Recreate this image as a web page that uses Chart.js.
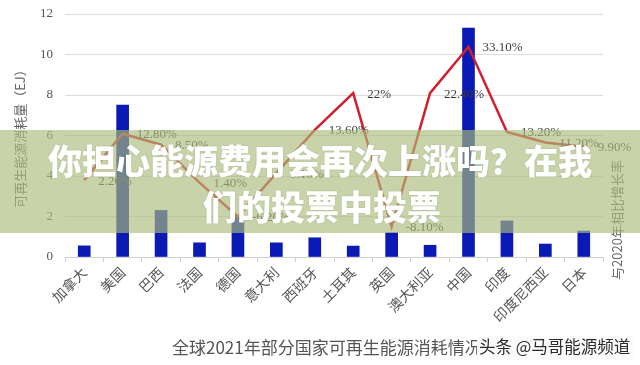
<!DOCTYPE html>
<html>
<head>
<meta charset="utf-8">
<script src="https://cdn.jsdelivr.net/npm/chart.js@4.4.1/dist/chart.umd.min.js"></script>
<style>
  html, body { margin: 0; padding: 0; background: #ffffff; }
  #wrap { width: 640px; height: 365px; position: relative; }
</style>
</head>
<body>
<div id="wrap"><canvas id="renewChart"></canvas></div>
<script>
// categories and values
const countries = ['加拿大', '美国', '巴西', '法国', '德国', '意大利', '西班牙', '土耳其', '英国', '澳大利亚', '中国', '印度', '印度尼西亚', '日本'];
const consumptionEJ = [0.55, 7.5, 2.3, 0.7, 2.0, 0.7, 0.95, 0.54, 1.2, 0.58, 11.3, 1.78, 0.64, 1.28];
const changeVs2020 = [2.6, 13.2, 10.7, 2.0, -5.8, 4.2, 14.1, 22.5, -8.1, 22.5, 33.1, 13.6, 11.2, 10.2];
const changeLabels = ['2.20%', '12.80%', '8.50%', '1.40%', '-6.20%', '5.10%', '13.60%', '22%', '-8.10%', '22.40%', '33.10%', '13.20%', '11.20%', '9.90%'];
const leftTicks = [0, 2, 4, 6, 8, 10, 12];

const chartTitle = '全球2021年部分国家可再生能源消耗情况';
const watermark = '头条 @马哥能源频道';
const rightTitle = '与2020年相比增长率';
const bannerLines = ['你担心能源费用会再次上涨吗？在我', '们的投票中投票'];

const cjk = '"Noto Sans CJK SC", "Noto Sans", sans-serif';

// percentage labels next to the line points
const lineLabels = {
    id: 'lineLabels',
    afterDatasetsDraw(chart) {
        const ctx = chart.ctx;
        const meta = chart.getDatasetMeta(1);
        ctx.save();
        ctx.font = '13px "Liberation Serif", serif';
        ctx.fillStyle = '#3a3a3a';
        ctx.textAlign = 'left';
        ctx.textBaseline = 'middle';
        meta.data.forEach((pt, i) => {
            ctx.fillText(changeLabels[i], pt.x + 14, pt.y + 1);
        });
        ctx.restore();
    }
};

// bottom title, right axis caption, overlay banner and watermark
const decorations = {
    id: 'decorations',
    afterDraw(chart) {
        const ctx = chart.ctx;
        ctx.save();

        // right side caption
        ctx.save();
        ctx.translate(617, 220);
        ctx.rotate(-Math.PI / 2);
        ctx.font = '13px ' + cjk;
        ctx.fillStyle = '#666';
        ctx.textAlign = 'center';
        ctx.textBaseline = 'middle';
        ctx.fillText(rightTitle, 0, 0);
        ctx.restore();

        // bottom title
        ctx.font = '17px ' + cjk;
        ctx.fillStyle = '#555';
        ctx.textAlign = 'left';
        ctx.textBaseline = 'middle';
        ctx.fillText(chartTitle, 172, 348);

        // watermark sits over the end of the title
        ctx.fillStyle = '#fbfbfb';
        ctx.fillRect(477, 336, 156, 24);
        ctx.font = '16.5px ' + cjk;
        ctx.fillStyle = '#2b2b2b';
        ctx.fillText(watermark, 479, 347);

        // translucent banner
        ctx.fillStyle = 'rgba(172, 188, 125, 0.66)';
        ctx.fillRect(0, 130, chart.width, 103);
        ctx.font = '900 34px ' + cjk;
        ctx.fillStyle = '#ffffff';
        ctx.textAlign = 'center';
        ctx.shadowColor = 'rgba(0,0,0,0.15)';
        ctx.shadowBlur = 2;
        ctx.fillText(bannerLines[0], 320, 161);
        ctx.fillText(bannerLines[1], 322, 207);
        ctx.restore();
    }
};

new Chart(document.getElementById('renewChart'), {
    data: {
        labels: countries,
        datasets: [
            {
                type: 'bar',
                label: '可再生能源消耗量',
                data: consumptionEJ,
                backgroundColor: '#0b1ab4',
                barThickness: 12,
                yAxisID: 'y',
                order: 2
            },
            {
                type: 'line',
                label: '与2020年相比',
                data: changeVs2020,
                borderColor: '#d21f2c',
                borderWidth: 2.5,
                pointRadius: 0,
                tension: 0,
                yAxisID: 'y1',
                order: 1
            }
        ]
    },
    options: {
        responsive: true,
        maintainAspectRatio: false,
        animation: false,
        layout: { padding: { top: 14, right: 37, bottom: 0, left: 0 } },
        plugins: {
            legend: { display: false },
            tooltip: { enabled: false }
        },
        scales: {
            x: {
                offset: true,
                grid: {
                    offset: true,
                    drawOnChartArea: false,
                    drawTicks: true,
                    tickLength: 5,
                    color: '#d0d0d0'
                },
                border: { color: '#d0d0d0' },
                ticks: {
                    minRotation: 45,
                    maxRotation: 45,
                    color: '#555',
                    font: { size: 14, family: cjk },
                    padding: 2
                },
                afterFit: s => { s.height = 108; }
            },
            y: {
                position: 'left',
                min: 0,
                max: 12,
                afterBuildTicks: s => { s.ticks = leftTicks.map(v => ({ value: v })); },
                grid: { color: '#dcdcdc', drawTicks: false },
                border: { display: false },
                ticks: {
                    color: '#555',
                    padding: 12,
                    font: { size: 13, family: '"Liberation Serif", serif' }
                },
                title: {
                    display: true,
                    text: '可再生能源消耗量（EJ）',
                    color: '#666',
                    font: { size: 13, family: cjk },
                    padding: { top: 12, bottom: 0 }
                },
                afterFit: s => {
                    s.width = 65;
                    s.paddingTop = 0;
                    s.paddingBottom = 0;
                }
            },
            y1: {
                position: 'right',
                display: false,
                min: -15,
                max: 40.6
            }
        }
    },
    plugins: [lineLabels, decorations]
});
</script>
</body>
</html>
